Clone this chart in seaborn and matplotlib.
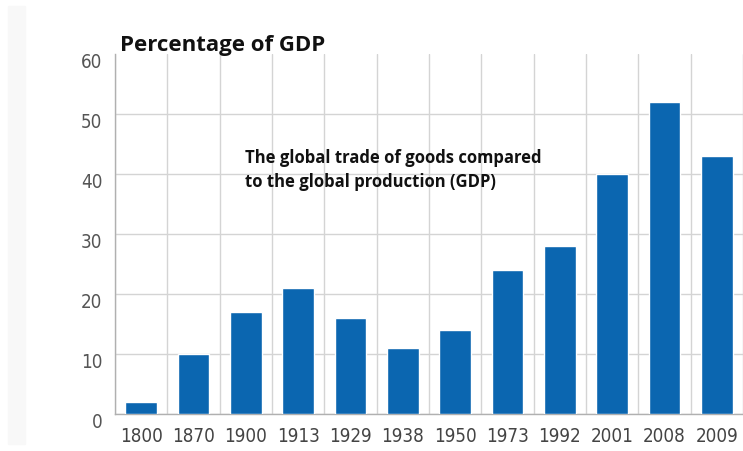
import numpy as np
import pandas as pd
import seaborn as sns
import matplotlib.pyplot as plt
from matplotlib.patches import Rectangle
from matplotlib.transforms import ScaledTranslation

# Данные
years = ['1800', '1870', '1900', '1913', '1929', '1938', '1950', '1973', '1992', '2001', '2008', '2009']
share = [2, 10, 17, 21, 16, 11, 14, 24, 28, 40, 52, 43]
y_ticks = [0, 10, 20, 30, 40, 50, 60]

df = pd.DataFrame({'Year': years, 'Share': share})

sns.set_style('white')
plt.rcParams['font.family'] = ['DejaVu Sans']
plt.rcParams['font.stretch'] = 'condensed'

fig = plt.figure(figsize=(7.43, 4.52), dpi=100)
fig.patches.append(Rectangle((8 / 743, 7 / 452), 17 / 743, 438 / 452,
                             transform=fig.transFigure, color='#f8f8f8', zorder=0))
ax = fig.add_axes([115 / 743, 1 - 415 / 452, 1 - 115 / 743, 360 / 452])

sns.barplot(data=df, x='Year', y='Share', color='#0b66b0', width=0.6,
            saturation=1, ax=ax, zorder=3)

ax.set_xlim(-0.5, 11.24)
ax.set_ylim(0, 60)
ax.set_yticks(y_ticks)
ax.set_xticks(np.arange(-0.5, 12, 1), minor=True)
ax.grid(axis='x', which='minor', color='#d4d4d4', lw=1)
ax.grid(axis='y', which='major', color='#d4d4d4', lw=1)
ax.get_ygridlines()[-1].set_visible(False)
ax.tick_params(axis='both', which='both', length=0)
ax.tick_params(axis='y', labelsize=13.5, labelcolor='#555555', pad=9)
ax.tick_params(axis='x', labelsize=13.5, labelcolor='#444444', pad=9)
for lbl in ax.get_yticklabels():
    lbl.set_transform(lbl.get_transform() + ScaledTranslation(0, -6 / 100, fig.dpi_scale_trans))
ax.set_xlabel('')
ax.set_ylabel('')
for s in ['top', 'right']:
    ax.spines[s].set_visible(False)
for s in ['left', 'bottom']:
    ax.spines[s].set_color('#b0b0b0')
    ax.spines[s].set_linewidth(1)

fig.text(120 / 743, 1 - 46 / 452, 'Percentage of GDP', fontsize=16, fontweight='bold',
         family=['Open Sans', 'DejaVu Sans'], stretch='normal', color='#111111',
         va='center', ha='left')
fig.text(245 / 743, 1 - 170 / 452, 'The global trade of goods compared\nto the global production (GDP)',
         fontsize=12, fontweight='bold', family=['Open Sans', 'DejaVu Sans'], stretch='normal',
         color='#111111', va='center', ha='left', linespacing=1.45)

plt.savefig('out.png', dpi=100)
